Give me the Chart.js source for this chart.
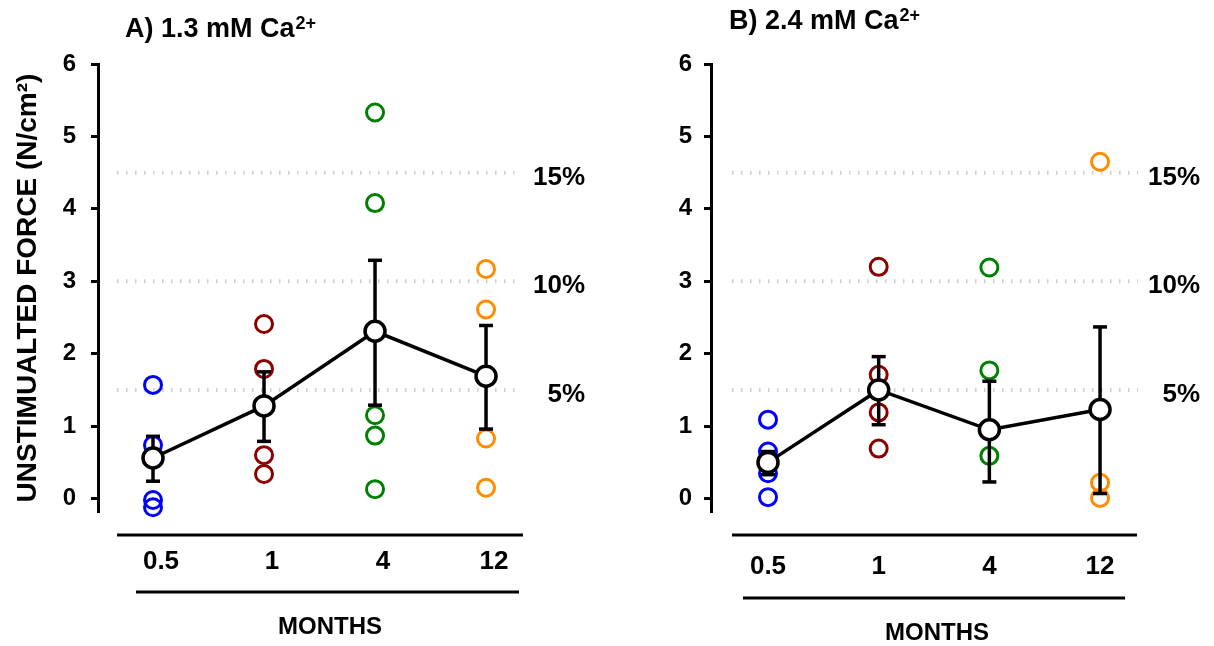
<!DOCTYPE html>
<html><head><meta charset="utf-8">
<script src="https://cdn.jsdelivr.net/npm/chart.js@4/dist/chart.umd.min.js"></script>
<style>
html,body{margin:0;padding:0;background:#fff;}
#wrap{position:relative;width:1214px;height:646px;overflow:hidden;font-family:"Liberation Sans",Arial,Helvetica,sans-serif;background:#fff;}
.panel{position:absolute;top:0;width:607px;height:646px;}
.panel canvas{display:block;}
.ttl{position:absolute;font-weight:bold;font-size:27px;line-height:27px;color:#000;white-space:nowrap;}
.ttl sup{font-size:18px;line-height:0;vertical-align:baseline;position:relative;top:-8px;margin-left:1px;}
</style></head><body>
<div id="wrap">
  <div class="panel" style="left:0"><canvas id="cA" width="607" height="646"></canvas></div>
  <div class="panel" style="left:607px"><canvas id="cB" width="607" height="646"></canvas></div>
  <div class="ttl" style="left:125px;top:15px">A) 1.3 mM Ca<sup>2+</sup></div>
  <div class="ttl" style="left:729px;top:7px">B) 2.4 mM Ca<sup>2+</sup></div>
</div>
<script>
// ---- data ----
const months = ['0.5', '1', '4', '12'];
const xAxisTitle = 'MONTHS';
const yTickValues = [0, 1, 2, 3, 4, 5, 6];
const refLevels = [1.5, 3, 4.5];
const refLabels = ['5%', '10%', '15%'];

// Panel A: 1.3 mM Ca2+
const a05 = [1.57, 0.74, -0.02, -0.12];
const a1 = [2.41, 1.79, 0.60, 0.34];
const a4 = [5.33, 4.08, 1.15, 0.87, 0.13];
const a12 = [3.17, 2.61, 0.83, 0.15];
const aMean = [0.56, 1.28, 2.31, 1.69];
const aErrHigh = [0.86, 1.75, 3.29, 2.39];
const aErrLow = [0.24, 0.79, 1.29, 0.96];

// Panel B: 2.4 mM Ca2+
const b05 = [1.09, 0.65, 0.35, 0.02];
const b1 = [3.20, 1.71, 1.19, 0.69];
const b4 = [3.19, 1.77, 0.59];
const b12 = [4.65, 0.22, 0.01];
const bMean = [0.50, 1.50, 0.95, 1.23];
const bErrHigh = [0.65, 1.96, 1.62, 2.37];
const bErrLow = [0.33, 1.02, 0.23, 0.07];

// ---- styles ----
const monthColors = ['#0000ff', '#8b0000', '#008000', '#ff8c00'];
const FONT = '"Liberation Sans", Arial, Helvetica, sans-serif';
Chart.defaults.font.family = FONT;
Chart.defaults.color = '#000';

// draws the two rules framing the month labels and the axis caption, placed with the x scale
const rulePlugin = {
  id: 'monthRules',
  afterDraw(chart, args, opts) {
    const xs = chart.scales.x, ctx = chart.ctx, b = chart.chartArea.bottom;
    ctx.save();
    ctx.strokeStyle = '#000';
    ctx.lineWidth = 3;
    (opts.rules || []).forEach(r => {
      const y = b + r.dy;
      ctx.beginPath();
      ctx.moveTo(xs.getPixelForValue(r.from), y);
      ctx.lineTo(xs.getPixelForValue(r.to), y);
      ctx.stroke();
    });
    if (opts.caption) {
      ctx.fillStyle = '#000';
      ctx.font = 'bold 24px ' + FONT;
      ctx.textAlign = 'center';
      ctx.textBaseline = 'middle';
      ctx.fillText(opts.caption.text, xs.getPixelForValue(opts.caption.at), b + opts.caption.dy);
    }
    ctx.restore();
  }
};

function makeChart(id, groups, means, hi, lo, L) {
  const ds = [];
  ds.push({
    label: 'mean', data: means.map((m, i) => ({x: i, y: m})), showLine: true,
    borderColor: '#000', borderWidth: 3.5, pointRadius: 10, pointBackgroundColor: '#fff',
    pointBorderColor: '#000', pointBorderWidth: 3.5, clip: false
  });
  means.forEach((m, i) => ds.push({
    label: 'err ' + months[i], data: [{x: i, y: lo[i]}, {x: i, y: hi[i]}], showLine: true,
    borderColor: '#000', borderWidth: 3.5, pointStyle: 'line', pointRadius: 7,
    pointBorderWidth: 3.5, pointBorderColor: '#000', clip: false
  }));
  groups.forEach((g, i) => ds.push({
    label: months[i], data: g.map(v => ({x: i, y: v})), showLine: false,
    pointRadius: 8.5, pointBorderWidth: 3, pointBorderColor: monthColors[i],
    pointBackgroundColor: 'rgba(0,0,0,0)', clip: false
  }));
  refLevels.forEach(l => ds.push({
    label: 'ref', data: [{x: L.refFrom, y: l}, {x: L.refTo, y: l}], showLine: true,
    borderColor: '#cfcfcf', borderWidth: 4, borderDash: [1.5, 7.5], pointRadius: 0
  }));

  return new Chart(document.getElementById(id), {
    type: 'scatter',
    data: {datasets: ds},
    plugins: [rulePlugin],
    options: {
      responsive: false, animation: false, events: [],
      layout: {padding: {top: 64, left: 0, right: L.padRight, bottom: 0}},
      plugins: {legend: {display: false}, tooltip: {enabled: false},
                monthRules: {rules: L.rules, caption: {text: xAxisTitle, at: L.captionAt, dy: L.captionDy}}},
      scales: {
        x: {
          type: 'linear', position: 'bottom', min: L.xMin, max: L.xMax,
          afterBuildTicks: s => { s.ticks = months.map((m, i) => ({value: i})); },
          afterFit: s => { s.height = 134; },
          grid: {display: false, drawTicks: false}, border: {display: false},
          ticks: {padding: L.xLabelPad, labelOffset: L.xLabelOffset, color: '#000', autoSkip: false, maxRotation: 0,
                  font: {size: 26, weight: 'bold'}, callback: v => months[v]}
        },
        y: {
          type: 'linear', position: 'left', min: -0.185, max: 6,
          afterBuildTicks: s => { s.ticks = yTickValues.map(v => ({value: v})); },
          afterFit: s => { s.width = L.yAxisWidth; },
          grid: {display: true, drawOnChartArea: false, drawTicks: true, tickLength: 7, tickWidth: 3, tickColor: '#000', color: '#000'},
          border: {display: true, width: 3, color: '#000'},
          ticks: {padding: L.yTickPad, color: '#000', font: {size: 24, weight: 'bold'}, callback: v => String(v)},
          title: {display: L.yTitle, text: 'UNSTIMUALTED FORCE (N/cm²)', color: '#000',
                  font: {size: 28, weight: 'bold', lineHeight: 1.2}, padding: {top: 11, bottom: 0}}
        },
        pct: {
          type: 'linear', position: 'right', min: -0.185, max: 6,
          afterBuildTicks: s => { s.ticks = refLevels.map(v => ({value: v})); },
          afterFit: s => { s.width = 60; },
          grid: {display: false, drawTicks: false}, border: {display: false},
          ticks: {padding: 8, crossAlign: 'far', labelOffset: 5, color: '#000', font: {size: 26, weight: 'bold'},
                  callback: v => refLabels[refLevels.indexOf(v)]}
        }
      }
    }
  });
}

makeChart('cA', [a05, a1, a4, a12], aMean, aErrHigh, aErrLow, {
  yAxisWidth: 98, yTickPad: 15, xMin: -0.4955, xMax: 3.351, padRight: 22,
  xLabelPad: 34, xLabelOffset: 8, refFrom: -0.324, refTo: 3.306, yTitle: true,
  captionAt: 1.595, captionDy: 115,
  rules: [{from: -0.324, to: 3.333, dy: 23}, {from: -0.153, to: 3.297, dy: 80}]
});
makeChart('cB', [b05, b1, b4, b12], bMean, bErrHigh, bErrLow, {
  yAxisWidth: 104, yTickPad: 12, xMin: -0.515, xMax: 3.361, padRight: 14,
  xLabelPad: 39, xLabelOffset: 0, refFrom: -0.325, refTo: 3.343, yTitle: false,
  captionAt: 1.527, captionDy: 121,
  rules: [{from: -0.325, to: 3.334, dy: 23}, {from: -0.226, to: 3.226, dy: 86}]
});
</script>
</body></html>
